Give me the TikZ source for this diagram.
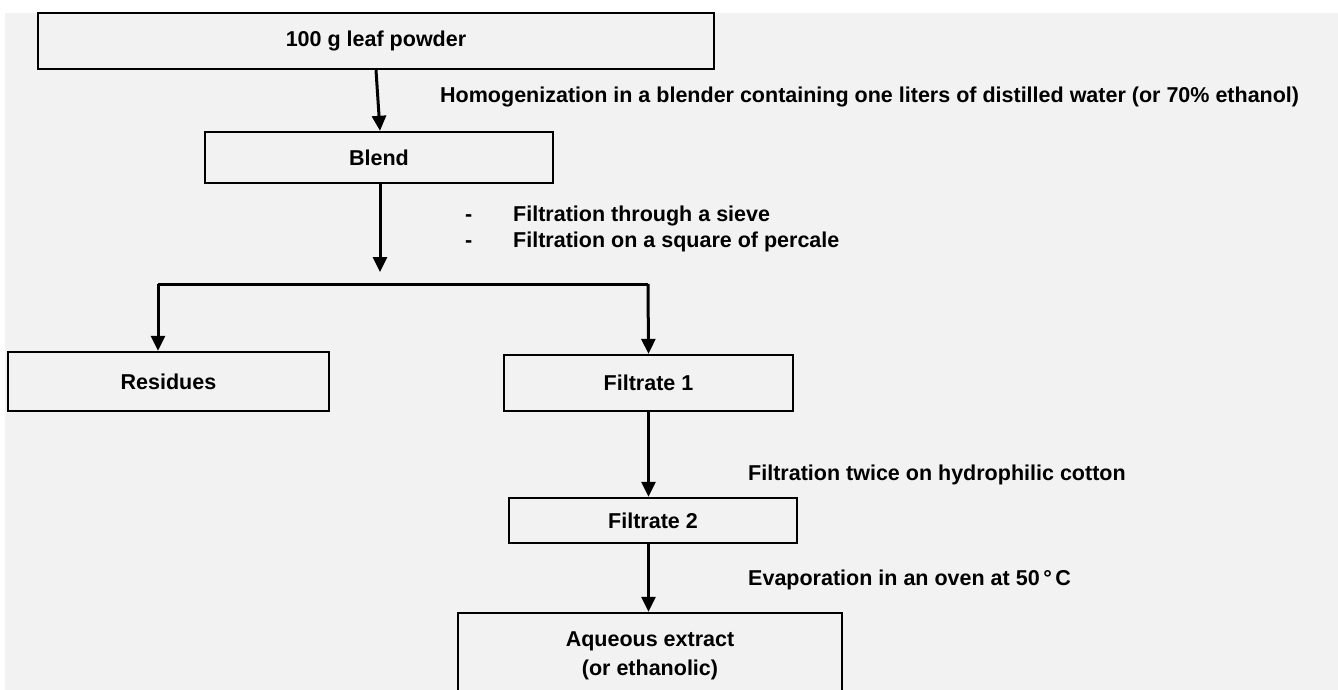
\documentclass[tikz,border=0pt]{standalone}
\usepackage{fontspec}
\setmainfont{Liberation Sans}
\usetikzlibrary{arrows.meta}
\definecolor{bggray}{HTML}{F2F2F2}

\begin{document}
\begin{tikzpicture}[x=1pt,y=-1pt,
   box/.style={draw=black,line width=2.4pt,inner sep=0pt,font=\bfseries\fontsize{21.5}{29}\selectfont},
   lbl/.style={anchor=west,inner sep=0pt,font=\bfseries\fontsize{21.5}{26.5}\selectfont},
   arr/.style={line width=3pt,-{Triangle[length=15pt,width=14pt]}}]
   \useasboundingbox (0,0) rectangle (1338,690);
   \fill[bggray] (5,13) rectangle (1338,690);
   % boxes
   \node[box,minimum width=676pt,minimum height=56pt] (powder) at (376,41) {100 g leaf powder};
   \node[box,minimum width=348pt,minimum height=51pt] (blend) at (379,157.5) {Blend};
   \node[box,minimum width=321pt,minimum height=59pt] (residues) at (168.5,381.5) {Residues};
   \node[box,minimum width=289pt,minimum height=56pt] (filtrate1) at (648.5,383) {Filtrate 1};
   \node[box,minimum width=288pt,minimum height=45pt] (filtrate2) at (653,520.5) {Filtrate 2};
   \node[box,minimum width=384pt,minimum height=90pt] (extract) at (650,658)
      {\raisebox{-2.5pt}[0pt][0pt]{\begin{tabular}{@{}c@{}}Aqueous extract\\(or ethanolic)\end{tabular}}};
   % labels
   \node[lbl] (homog) at (440,97) {Homogenization in a blender containing one liters of distilled water (or 70\% ethanol)};
   \node[lbl] (sieve) at (465,229) {\begin{tabular}{@{}l@{}}\makebox[48pt][l]{-}Filtration through a sieve\\\makebox[48pt][l]{-}Filtration on a square of percale\end{tabular}};
   \node[lbl] (cotton) at (748,475) {Filtration twice on hydrophilic cotton};
   \node[lbl] (oven) at (748,580) {Evaporation in an oven at 50\,°\,C};
   % connectors
   \coordinate (split) at (380,272);
   \coordinate (barL) at (158,284);
   \coordinate (barR) at (648,284);
   \draw[arr] (powder.south) -- ([xshift=1pt]blend.north);
   \draw[arr] (blend.south -| split) -- (split);
   \draw[line width=3pt] (barL) -- (barR);
   \draw[arr] (barL) -- (barL |- residues.north);
   \draw[arr] (barR) -- (filtrate1.north);
   \draw[arr] (filtrate1.south) -- (filtrate1.south |- filtrate2.north);
   \draw[arr] (filtrate2.south -| filtrate1.south) -- (extract.north -| filtrate1.south);
\end{tikzpicture}
\end{document}
